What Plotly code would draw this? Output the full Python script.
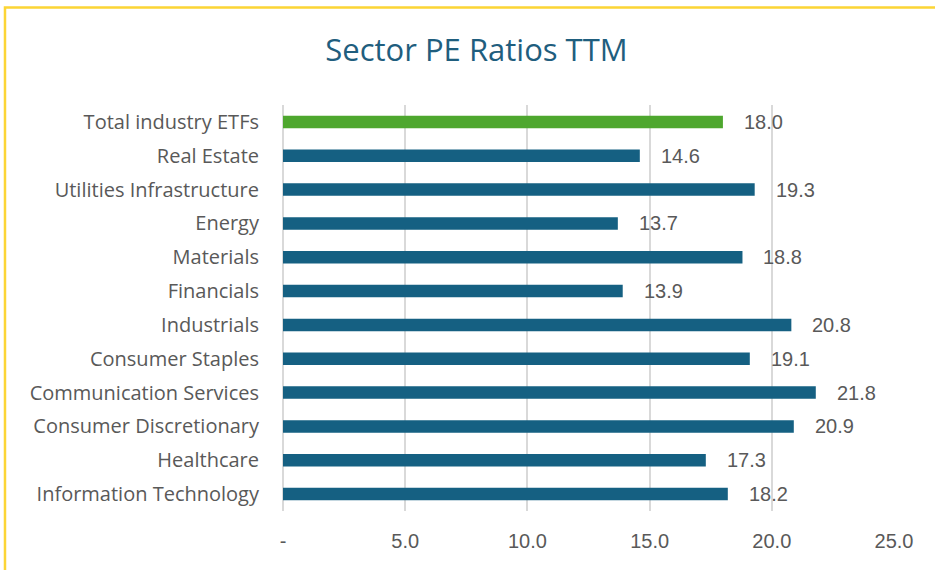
import plotly.graph_objects as go

categories = ["Information Technology", "Healthcare", "Consumer Discretionary",
              "Communication Services", "Consumer Staples", "Industrials",
              "Financials", "Materials", "Energy", "Utilities Infrastructure",
              "Real Estate", "Total industry ETFs"]
values = [18.2, 17.3, 20.9, 21.8, 19.1, 20.8, 13.9, 18.8, 13.7, 19.3, 14.6, 18.0]
tick_vals = [0, 5, 10, 15, 20, 25]
tick_text = ["-", "5.0", "10.0", "15.0", "20.0", "25.0"]

BLUE = "#156082"
GREEN = "#4EA72E"
colors = [GREEN if c == "Total industry ETFs" else BLUE for c in categories]
FONT = "Open Sans"
NUMFONT = "Liberation Sans"
TXT = "#595959"

fig = go.Figure(go.Bar(
    x=values, y=categories, orientation="h",
    marker=dict(color=colors, line=dict(width=0)),
    hoverinfo="x+y",
))

for c, v in zip(categories, values):
    fig.add_annotation(x=v, y=c, text=f"{v:.1f}", showarrow=False,
                       xanchor="left", xshift=19,
                       font=dict(family=NUMFONT, size=20, color=TXT))

fig.update_layout(
    width=935, height=570,
    margin=dict(l=283, r=41, t=105, b=59),
    paper_bgcolor="white", plot_bgcolor="white",
    bargap=0.63,
    showlegend=False,
    title=dict(text="Sector PE Ratios TTM", x=0.5096, xanchor="center",
               y=0.912, yanchor="middle",
               font=dict(family=FONT, size=31, color="#1F5E7E")),
    xaxis=dict(range=[0, 25], tickvals=tick_vals, ticktext=tick_text,
               showgrid=True, gridcolor="#D9D9D9", gridwidth=1.5,
               zeroline=True, zerolinecolor="#D9D9D9", zerolinewidth=1.5,
               showline=False, ticks="",
               ticklabelstandoff=16,
               tickfont=dict(family=NUMFONT, size=20, color=TXT),
               fixedrange=True),
    yaxis=dict(showgrid=False, zeroline=False, showline=False, ticks="",
               ticklabelstandoff=23,
               tickfont=dict(family=FONT, size=20, color=TXT),
               fixedrange=True),
    shapes=[dict(type="rect", xref="paper", yref="paper",
                 x0=-0.455, x1=2.0, y0=-1.0, y1=1.24,
                 line=dict(color="#FCD535", width=2.5), fillcolor="rgba(0,0,0,0)",
                 layer="below")],
)

fig.write_html("out.html", config={"displayModeBar": False},
               post_script="document.body.style.margin='0';document.body.style.overflow='hidden';")
